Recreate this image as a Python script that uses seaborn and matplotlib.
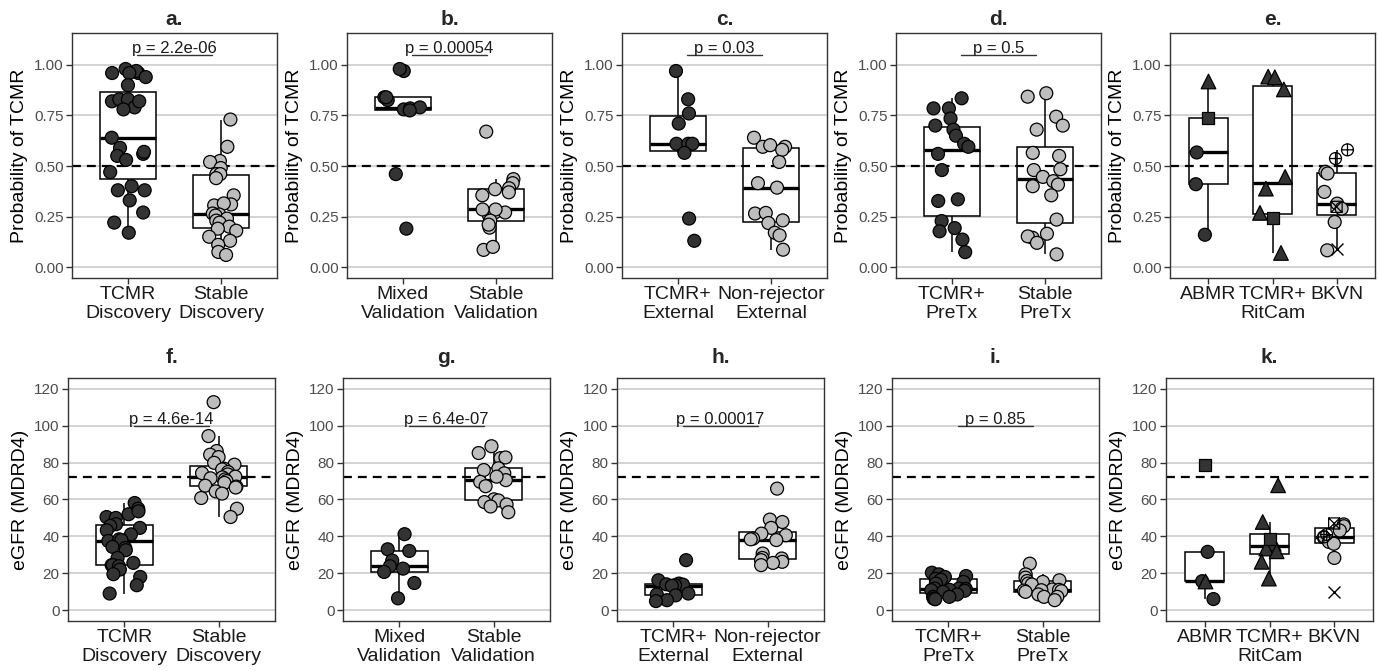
import numpy as np
import pandas as pd
import matplotlib
matplotlib.use("Agg")
import matplotlib.pyplot as plt
import seaborn as sns
from matplotlib.path import Path

# ---------------- data ----------------
a_cats = ["TCMR\nDiscovery", "Stable\nDiscovery"]
a_tcmr = [0.96, 0.96, 0.98, 0.97, 0.94, 0.96, 0.90, 0.82, 0.83, 0.83, 0.79, 0.82, 0.78, 0.64,
          0.59, 0.56, 0.55, 0.53, 0.57, 0.47, 0.40, 0.38, 0.38, 0.33, 0.27, 0.22, 0.17]
a_stable = [0.73, 0.595, 0.525, 0.52, 0.49, 0.46, 0.46, 0.44, 0.355, 0.31, 0.305, 0.315, 0.265,
            0.26, 0.255, 0.24, 0.23, 0.22, 0.20, 0.19, 0.18, 0.15, 0.13, 0.11, 0.075, 0.06]

b_cats = ["Mixed\nValidation", "Stable\nValidation"]
b_mixed = [0.97, 0.98, 0.84, 0.826, 0.78, 0.78, 0.785, 0.79, 0.775, 0.84, 0.46, 0.19]
b_stable = [0.67, 0.435, 0.415, 0.39, 0.385, 0.37, 0.355, 0.255, 0.27, 0.27, 0.285, 0.285,
            0.23, 0.195, 0.21, 0.085, 0.10]

c_cats = ["TCMR+\nExternal", "Non-rejector\nExternal"]
c_tcmr = [0.97, 0.83, 0.76, 0.71, 0.61, 0.61, 0.61, 0.565, 0.24, 0.13]
c_nonrej = [0.64, 0.595, 0.595, 0.603, 0.58, 0.52, 0.415, 0.393, 0.265, 0.268, 0.231, 0.218,
            0.17, 0.157, 0.086]

d_cats = ["TCMR+\nPreTx", "Stable\nPreTx"]
d_tcmr = [0.835, 0.785, 0.785, 0.735, 0.70, 0.68, 0.65, 0.61, 0.595, 0.56, 0.48, 0.335, 0.327,
          0.228, 0.193, 0.177, 0.136, 0.074]
d_stable = [0.843, 0.86, 0.744, 0.70, 0.68, 0.565, 0.55, 0.484, 0.48, 0.446, 0.425, 0.408, 0.40,
            0.355, 0.235, 0.165, 0.145, 0.152, 0.12, 0.063]

e_cats = ["ABMR", "TCMR+\nRitCam", "BKVN"]
e_abmr = [0.922, 0.736, 0.567, 0.41, 0.16]
e_abmr_shape = ["tri", "sq", "o", "o", "o"]
e_tcmr = [0.942, 0.939, 0.879, 0.446, 0.388, 0.268, 0.245, 0.07]
e_tcmr_shape = ["tri", "tri", "tri", "tri", "tri", "tri", "sq", "tri"]
e_bkvn = [0.58, 0.537, 0.471, 0.463, 0.372, 0.314, 0.289, 0.223, 0.083, 0.298, 0.09]
e_bkvn_shape = ["plus", "plus", "o", "o", "o", "o", "o", "o", "o", "box", "x"]

f_cats = ["TCMR\nDiscovery", "Stable\nDiscovery"]
f_tcmr = [58.1, 55.0, 52.0, 53.6, 50.5, 50.0, 46.6, 45.7, 44.6, 43.3, 41.1, 37.5, 38.4, 38.0,
          34.3, 33.7, 32.5, 28.3, 25.6, 24.4, 24.4, 23.8, 22.0, 19.5, 18.0, 13.5, 9.0]
f_stable = [112.8, 94.4, 86.3, 84.3, 83.0, 78.9, 79.9, 76.7, 76.3, 74.9, 74.3, 73.6, 72.4, 72.0,
            71.5, 70.9, 70.0, 69.0, 67.5, 67.0, 66.5, 64.4, 63.2, 60.8, 55.0, 50.5]

g_cats = ["Mixed\nValidation", "Stable\nValidation"]
g_mixed = [41.2, 32.1, 33.0, 26.9, 23.8, 22.5, 20.7, 14.7, 6.4]
g_stable = [88.9, 85.2, 82.4, 82.8, 76.9, 76.0, 74.2, 69.6, 70.5, 72.4, 67.2, 60.1, 59.5, 58.6,
            57.3, 56.2, 53.1]

h_cats = ["TCMR+\nExternal", "Non-rejector\nExternal"]
h_tcmr = [27.1, 16.2, 14.4, 14.0, 13.8, 13.5, 13.2, 9.0, 8.5, 8.0, 5.4, 4.9]
h_nonrej = [65.9, 49.1, 47.8, 44.6, 41.5, 40.6, 38.8, 38.4, 38.0, 30.7, 28.3, 28.0, 27.1, 26.2,
            25.6, 24.4]

i_cats = ["TCMR+\nPreTx", "Stable\nPreTx"]
i_tcmr = [20.3, 19.4, 18.5, 18.0, 17.0, 16.5, 15.3, 14.4, 11.7, 11.7, 11.5, 11.0, 10.8, 10.5,
          9.9, 8.5, 7.2, 7.2, 6.3, 5.9]
i_stable = [25.2, 19.4, 17.6, 16.2, 15.8, 15.3, 14.4, 13.9, 11.2, 11.0, 10.8, 10.6, 10.3, 9.9,
            8.5, 7.2, 7.2, 5.4]

k_cats = ["ABMR", "TCMR+\nRitCam", "BKVN"]
k_abmr = [78.5, 31.6, 15.7, 15.7, 6.0]
k_abmr_shape = ["sq", "o", "o", "tri", "o"]
k_tcmr = [67.7, 47.8, 38.8, 36.0, 33.4, 31.9, 26.2, 17.1]
k_tcmr_shape = ["tri", "tri", "sq", "tri", "tri", "tri", "tri", "tri"]
k_bkvn = [46.5, 45.5, 43.2, 39.5, 37.0, 36.0, 28.3, 47.0, 39.7, 41.0, 9.9]
k_bkvn_shape = ["o", "o", "o", "o", "o", "o", "o", "box", "plus", "plus", "x"]

p_top = ["p = 2.2e-06", "p = 0.00054", "p = 0.03", "p = 0.5", None]
p_bottom = ["p = 4.6e-14", "p = 6.4e-07", "p = 0.00017", "p = 0.85", None]
titles_top = ["a.", "b.", "c.", "d.", "e."]
titles_bottom = ["f.", "g.", "h.", "i.", "k."]
prob_ticks = [0.0, 0.25, 0.5, 0.75, 1.0]
prob_labels = ["0.00", "0.25", "0.50", "0.75", "1.00"]
egfr_ticks = [0, 20, 40, 60, 80, 100, 120]
egfr_labels = ["0", "20", "40", "60", "80", "100", "120"]

# ---------------- style ----------------
sns.set_theme(style="white")
plt.rcParams["font.family"] = ["Liberation Sans", "DejaVu Sans"]

DARK = "#333333"
LIGHT = "#bdbdbd"

circ = Path.unit_circle()
plus_path = Path.make_compound_path(
    circ, Path([[-1, 0], [1, 0], [0, -1], [0, 1]],
               [Path.MOVETO, Path.LINETO, Path.MOVETO, Path.LINETO]))
box_path = Path([[-1, -1], [1, -1], [1, 1], [-1, 1], [-1, -1],
                 [-1, -1], [1, 1], [-1, 1], [1, -1]],
                [Path.MOVETO, Path.LINETO, Path.LINETO, Path.LINETO, Path.CLOSEPOLY,
                 Path.MOVETO, Path.LINETO, Path.MOVETO, Path.LINETO])
MARKERS = {"o": ("o", 9.3, True), "tri": ("^", 10.5, True), "sq": ("s", 8.2, True),
           "plus": (plus_path, 8.6, False), "box": (box_path, 8.0, False),
           "x": ("x", 8.6, None)}

fig = plt.figure(figsize=(13.78, 6.71), dpi=100)
W, H = 1378.0, 671.0

top_lefts = [72, 347, 622, 896, 1170]
bot_lefts = [68, 343, 617, 892, 1166]


def make_ax(left_px, top_px, bottom_px, width_px):
    return fig.add_axes([left_px / W, 1 - bottom_px / H, width_px / W, (bottom_px - top_px) / H])


def draw_panel(ax, title, cats, groups, fills, shapes, ylabel, ticks, ticklabels, ylim,
               hline, ptext, py, pdy, title_pad):
    rows = []
    for c, vals, shp in zip(cats, groups, shapes):
        for v, s in zip(vals, shp):
            rows.append((c, v, s))
    df = pd.DataFrame(rows, columns=["group", "value", "shape"])
    pal = dict(zip(cats, fills))

    ax.set_axisbelow(True)
    ax.yaxis.grid(True, color="#cccccc", linewidth=1.2)
    ax.xaxis.grid(False)

    sns.boxplot(data=df, x="group", y="value", order=cats, ax=ax, width=0.6,
                color="white", linecolor="black", linewidth=1.1, showcaps=False,
                showfliers=False, whis=1.5,
                medianprops=dict(color="black", linewidth=2.4))
    ax.axhline(hline, color="black", linestyle=(0, (4, 2.7)), linewidth=1.6, zorder=2.5)

    for key, (mk, sz, filled) in MARKERS.items():
        sub = df[df["shape"] == key]
        if len(sub) == 0:
            continue
        if filled is None:
            sns.stripplot(data=sub, x="group", y="value", order=cats, ax=ax, jitter=0.2,
                          color="black", marker=mk, size=sz, linewidth=1.0, zorder=3)
        else:
            sns.stripplot(data=sub, x="group", y="value", order=cats, hue="group",
                          hue_order=cats, palette=pal, ax=ax, jitter=0.2, marker=mk,
                          size=sz, edgecolor="black", linewidth=0.9, legend=False, zorder=3)
            if not filled:
                ax.collections[-1].set_facecolor("none")

    if ptext:
        ax.plot([0.1, 0.9], [py, py], color="#333333", linewidth=1.0, zorder=3)
        ax.annotate(ptext, xy=(0.5, py), xytext=(0, pdy), textcoords="offset points",
                    ha="center", va="baseline", fontsize=12, color="#1a1a1a")

    ax.set_xlim(-0.6, len(cats) - 0.4)
    ax.set_ylim(*ylim)
    ax.set_yticks(ticks)
    ax.set_yticklabels(ticklabels)
    ax.set_xlabel("")
    ax.set_ylabel(ylabel, fontsize=14, color="black", labelpad=4)
    ax.set_title(title, fontsize=15, fontweight="bold", pad=title_pad)
    ax.tick_params(axis="both", which="major", length=4, width=1.0, color="#333333",
                   bottom=True, left=True)
    ax.tick_params(axis="y", labelsize=11, labelcolor="#4d4d4d", pad=2)
    ax.tick_params(axis="x", labelsize=14, labelcolor="#1a1a1a", pad=2)
    for lab in ax.get_xticklabels():
        lab.set_linespacing(1.15)
    for sp in ax.spines.values():
        sp.set_visible(True)
        sp.set_color("#333333")
        sp.set_linewidth(1.0)


np.random.seed(7)

top_groups = [
    (a_cats, [a_tcmr, a_stable]),
    (b_cats, [b_mixed, b_stable]),
    (c_cats, [c_tcmr, c_nonrej]),
    (d_cats, [d_tcmr, d_stable]),
]
bot_groups = [
    (f_cats, [f_tcmr, f_stable]),
    (g_cats, [g_mixed, g_stable]),
    (h_cats, [h_tcmr, h_nonrej]),
    (i_cats, [i_tcmr, i_stable]),
]

for idx in range(5):
    ax = make_ax(top_lefts[idx], 33, 278, 205)
    if idx < 4:
        cats, grps = top_groups[idx]
        shapes = [["o"] * len(g) for g in grps]
        fills = [DARK, LIGHT]
    else:
        cats, grps = e_cats, [e_abmr, e_tcmr, e_bkvn]
        shapes = [e_abmr_shape, e_tcmr_shape, e_bkvn_shape]
        fills = [DARK, DARK, LIGHT]
    draw_panel(ax, titles_top[idx], cats, grps, fills, shapes, "Probability of TCMR",
               prob_ticks, prob_labels, (-0.054, 1.158), 0.5, p_top[idx], 1.05, 1.5, 6)

for idx in range(5):
    ax = make_ax(bot_lefts[idx], 378, 621, 207)
    if idx < 4:
        cats, grps = bot_groups[idx]
        shapes = [["o"] * len(g) for g in grps]
        fills = [DARK, LIGHT]
    else:
        cats, grps = k_cats, [k_abmr, k_tcmr, k_bkvn]
        shapes = [k_abmr_shape, k_tcmr_shape, k_bkvn_shape]
        fills = [DARK, DARK, LIGHT]
    draw_panel(ax, titles_bottom[idx], cats, grps, fills, shapes, "eGFR (MDRD4)",
               egfr_ticks, egfr_labels, (-5.9, 125.9), 72, p_bottom[idx], 100, 1.5, 11)

fig.savefig("out.png", dpi=100, facecolor="white")
